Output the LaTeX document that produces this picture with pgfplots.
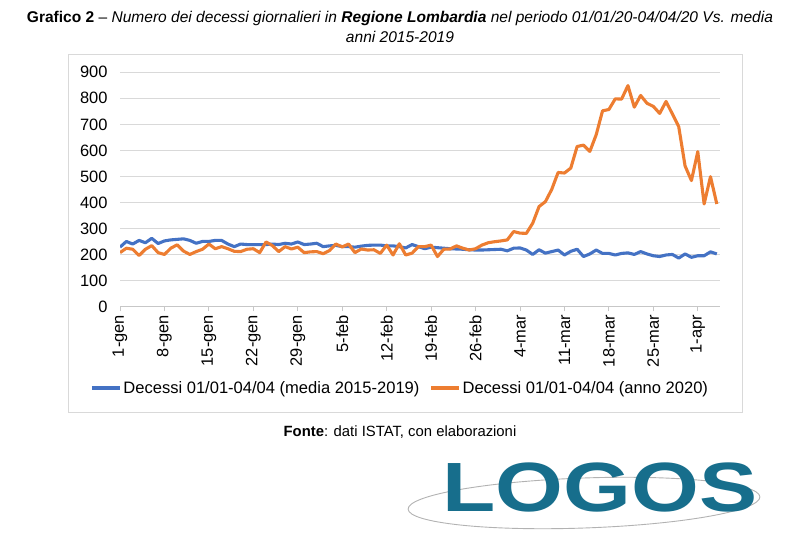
\documentclass[border=0pt]{standalone}
\usepackage{pgfplots}
\pgfplotsset{compat=1.18}
\usepackage{pgfplotstable}
\usepackage{fontspec}
\setmainfont{Liberation Sans}
\definecolor{cblue}{HTML}{4472C4}
\definecolor{corange}{HTML}{ED7D31}
\definecolor{gridc}{HTML}{D9D9D9}
\definecolor{logoteal}{HTML}{176E8C}

\pgfplotstableread{
d m o
0 228 207
1 250 224
2 240 220
3 254 196
4 245 220
5 262 234
6 242 207
7 252 200
8 256 224
9 258 237
10 260 213
11 254 200
12 243 211
13 250 220
14 250 240
15 254 222
16 254 230
17 240 222
18 230 212
19 240 211
20 238 220
21 238 222
22 238 207
23 238 248
24 240 234
25 238 211
26 243 230
27 240 221
28 248 228
29 238 207
30 240 210
31 243 211
32 230 203
33 233 215
34 235 240
35 230 229
36 230 240
37 228 207
38 232 221
39 235 217
40 236 218
41 236 204
42 233 236
43 233 198
44 230 241
45 225 198
46 238 205
47 230 230
48 222 230
49 228 236
50 226 192
51 224 220
52 222 221
53 221 233
54 220 224
55 218 217
56 217 222
57 217 236
58 218 245
59 219 249
60 220 252
61 214 256
62 224 288
63 225 282
64 217 281
65 200 320
66 218 384
67 205 403
68 211 450
69 217 515
70 198 513
71 212 532
72 220 615
73 192 620
74 202 596
75 217 660
76 204 752
77 204 757
78 198 798
79 204 797
80 206 849
81 200 766
82 211 811
83 202 781
84 195 769
85 192 742
86 198 788
87 200 740
88 186 691
89 202 540
90 189 484
91 195 595
92 195 394
93 210 499
94 202 394
}\data

\begin{document}
\begin{tikzpicture}
\path[use as bounding box] (0,0) rectangle (800bp,543bp);
\draw[gray!30, line width=0.8bp] (68bp,131bp) rectangle (742bp,489bp);
\node[font=\fontsize{15.6}{20}\selectfont, align=center] at (400bp,516bp)
  {\textbf{Grafico 2} – \textit{Numero dei decessi giornalieri in \textbf{Regione Lombardia} nel periodo 01/01/20-04/04/20 Vs. media}\\
   \textit{anni 2015-2019}};
\begin{axis}[
  at={(120bp,236.5bp)}, anchor=south west,
  scale only axis, width=600bp, height=234.2bp,
  xmin=0, xmax=94.5, ymin=0, ymax=900,
  ytick={0,100,...,900},
  xtick={0,7,...,91},
  xticklabels={1-gen,8-gen,15-gen,22-gen,29-gen,5-feb,12-feb,19-feb,26-feb,4-mar,11-mar,18-mar,25-mar,1-apr},
  axis x line=bottom, axis y line=left,
  x axis line style={-, draw=gridc!80!gray, line width=0.8bp},
  y axis line style={draw=none},
  ymajorgrids, grid style={draw=gridc, line width=0.8bp},
  tick align=outside, major tick length=5bp,
  xtick style={draw=gridc!80!gray, line width=0.8bp},
  ytick style={draw=none},
  /pgf/number format/assume math mode=true,
  xticklabel style={rotate=90, anchor=east, font=\fontsize{16.5}{18}\selectfont},
  yticklabel style={font=\fontsize{16.5}{18}\selectfont, xshift=-4bp},
  legend style={at={(0.467,-0.348)}, anchor=center, draw=none, fill=none,
    font=\fontsize{16.6}{18}\selectfont, legend columns=2,
    /tikz/every even column/.append style={column sep=8bp}},
  legend image code/.code={\draw[#1] (0bp,0bp) -- (28bp,0bp);},
  legend cell align=left,
]
\addplot[cblue, line width=3.1bp, line join=round, no markers] table[x=d, y=m] {\data};
\addlegendentry{Decessi 01/01-04/04 (media 2015-2019)}
\addplot[corange, line width=3.1bp, line join=round, no markers] table[x=d, y=o] {\data};
\addlegendentry{Decessi 01/01-04/04 (anno 2020)}
\end{axis}
\node[font=\fontsize{14.9}{17}\selectfont] at (400bp,111bp) {\textbf{Fonte}: dati ISTAT, con elaborazioni};
\draw[gray!60, line width=0.9bp, rotate around={2:(584bp,40bp)}] (584bp,40bp) ellipse (176bp and 25bp);
\node[text=logoteal, font=\fontsize{70}{70}\selectfont\bfseries, inner sep=0pt] at (600bp,56bp) {\scalebox{1.25}[1]{LOGOS}};
\end{tikzpicture}
\end{document}
